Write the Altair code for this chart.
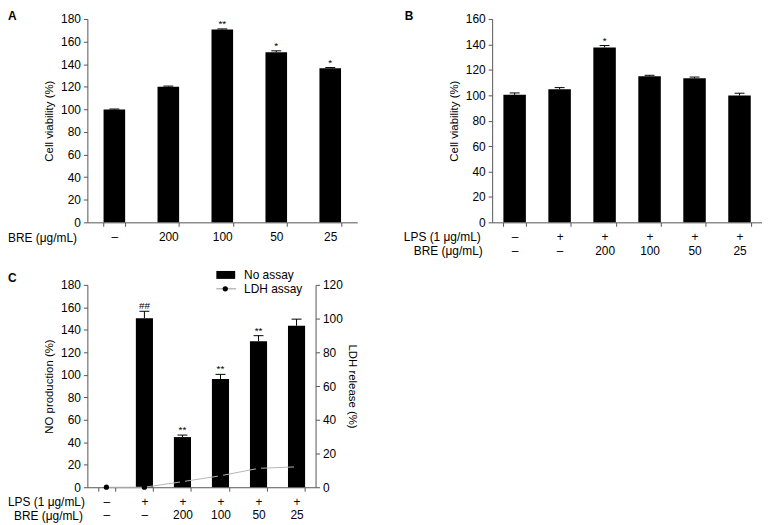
import altair as alt
import pandas as pd

FONT = "Liberation Sans"
AX = "#555555"

# ---------------- Panel A ----------------
a_cats = ["–", "200", "100", "50", "25"]
a_vals = [99.8, 120.0, 170.6, 150.6, 136.3]
a_errs = [0.5, 0.6, 0.6, 1.2, 0.7]
a_sig = ["", "", "**", "*", "*"]

# ---------------- Panel B ----------------
b_lps = ["–", "+", "+", "+", "+", "+"]
b_bre = ["–", "–", "200", "100", "50", "25"]
b_vals = [100.3, 104.8, 137.6, 114.9, 113.3, 99.8]
b_errs = [1.5, 1.2, 1.5, 0.8, 1.0, 1.8]
b_sig = ["", "", "*", "", "", ""]

# ---------------- Panel C ----------------
c_lps = ["–", "+", "+", "+", "+", "+"]
c_bre = ["–", "–", "200", "100", "50", "25"]
c_no = [0, 150.3, 44.6, 96.3, 129.8, 143.6]
c_no_err = [0, 6.2, 1.8, 4.1, 5.0, 5.9]
c_sig = ["", "##", "**", "**", "**", ""]
c_ldh = [0, 0, 3.3, 6.8, 11.2, 12.1]

A_W, A_H = 272, 205
B_W, B_H = 272, 205
C_W, C_H = 230, 204

one = pd.DataFrame({"k": [0]})


def text_at(txt, x, y, size=12, bold=False, align="left", baseline="middle"):
    return alt.Chart(one).mark_text(
        text=txt, font=FONT, fontSize=size,
        fontWeight="bold" if bold else "normal",
        align=align, baseline=baseline, color="black",
    ).encode(x=alt.value(x), y=alt.value(y))


def x_enc(cats, pi):
    return alt.X(
        "cat:N", sort=cats,
        scale=alt.Scale(domain=cats, paddingInner=pi, paddingOuter=pi / 2),
        axis=alt.Axis(title=None, labelAngle=0,
                      labelExpr="split(datum.label, '|')",
                      tickBand="extent", tickSize=4, labelPadding=5,
                      labelLineHeight=14, labelFontSize=12, labelFont=FONT,
                      labelColor="black", domainColor=AX, tickColor=AX),
    )


def y_enc(field, ymax, title, orient="left", pad=6):
    return alt.Y(
        field, scale=alt.Scale(domain=[0, ymax], nice=False),
        axis=alt.Axis(values=list(range(0, ymax + 1, 20)), title=title,
                      orient=orient, titlePadding=pad, labelPadding=3,
                      labelFontSize=12, labelFont=FONT, labelColor="black",
                      titleFont=FONT, titleFontSize=11.5, titleFontWeight="normal",
                      titleColor="black", domainColor=AX, tickColor=AX,
                      tickSize=4, grid=False),
    )


def bar_layers(cats, vals, errs, sig, ymax, pi, cap, title):
    df = pd.DataFrame({"cat": cats, "value": vals, "err": errs, "sig": sig})
    df["top"] = df["value"] + df["err"]
    base = alt.Chart(df).transform_filter("datum.value > 0")
    xe = x_enc(cats, pi)
    bars = base.mark_bar(color="black").encode(x=xe, y=y_enc("value:Q", ymax, title))
    rule = base.mark_rule(color="black", strokeWidth=1).encode(
        x=xe, y=y_enc("value:Q", ymax, title), y2="top:Q")
    caps = base.mark_tick(color="black", thickness=1, size=cap, opacity=1).encode(
        x=xe, y=y_enc("top:Q", ymax, title))
    stars = base.mark_text(font=FONT, fontSize=10, baseline="alphabetic", dy=-2,
                           color="black").encode(
        x=xe, y=y_enc("top:Q", ymax, title), text="sig:N")
    return [bars, rule, caps, stars]


# Panel A
chartA = alt.layer(
    *bar_layers(a_cats, a_vals, a_errs, a_sig, 180, 0.6, 10, "Cell viability (%)"),
    text_at("BRE (μg/mL)", -80, A_H + 16),
    text_at("A", -80, -8, size=12, bold=True, baseline="top"),
).properties(width=A_W, height=A_H)

# Panel B
b_cats = [f"{l}|{b}" for l, b in zip(b_lps, b_bre)]
chartB = alt.layer(
    *bar_layers(b_cats, b_vals, b_errs, b_sig, 160, 0.5, 10, "Cell viability (%)"),
    text_at("LPS (1 μg/mL)", -89, B_H + 15),
    text_at("BRE (μg/mL)", -79, B_H + 29),
    text_at("B", -88, -8, size=12, bold=True, baseline="top"),
).properties(width=B_W, height=B_H)

# Panel C
c_cats = [f"{l}|{b}" for l, b in zip(c_lps, c_bre)]
left = alt.layer(*bar_layers(c_cats, c_no, c_no_err, c_sig, 180, 0.55, 10,
                             "NO production (%)"))
dfc = pd.DataFrame({"cat": c_cats, "ldh": c_ldh})
xc = x_enc(c_cats, 0.55)
yr = y_enc("ldh:Q", 120, "LDH release (%)", orient="right", pad=4)
ldh_line = alt.Chart(dfc).mark_line(color="#b5b5b5", strokeWidth=1).encode(x=xc, y=yr)
ldh_pts = alt.Chart(dfc).mark_point(filled=True, color="black", size=28, opacity=1).encode(x=xc, y=yr)
right = alt.layer(ldh_line, ldh_pts)

leg_rect = alt.Chart(one).mark_rect(color="black").encode(
    x=alt.value(130), x2=alt.value(149), y=alt.value(-14), y2=alt.value(-6))
leg_line = alt.Chart(one).mark_rule(color="#9a9a9a", strokeWidth=1).encode(
    x=alt.value(130), x2=alt.value(150), y=alt.value(4))
leg_pt = alt.Chart(one).mark_point(filled=True, color="black", size=28, opacity=1).encode(
    x=alt.value(139), y=alt.value(4))

chartC = alt.layer(
    left, right,
    leg_rect, leg_line, leg_pt,
    text_at("No assay", 158, -10),
    text_at("LDH assay", 158, 4),
    text_at("LPS (1 μg/mL)", -80, C_H + 15),
    text_at("BRE (μg/mL)", -74, C_H + 29),
    text_at("C", -80, -12, size=12, bold=True, baseline="top"),
).resolve_scale(y="independent").properties(width=C_W, height=C_H)

top = alt.hconcat(chartA, chartB, spacing=47)
chart = alt.vconcat(top, chartC, spacing=12).properties(
    padding={"left": 0, "top": 0, "right": 0, "bottom": 0},
    background="white",
).configure_view(stroke=None).configure_axis(
    domainColor=AX, tickColor=AX, labelFont=FONT, titleFont=FONT,
    labelFontSize=12, titleFontSize=11.5, titleFontWeight="normal",
    labelColor="black", titleColor="black", grid=False, tickSize=4,
)

chart.save("out.html", embed_options={"renderer": "svg", "actions": False})
